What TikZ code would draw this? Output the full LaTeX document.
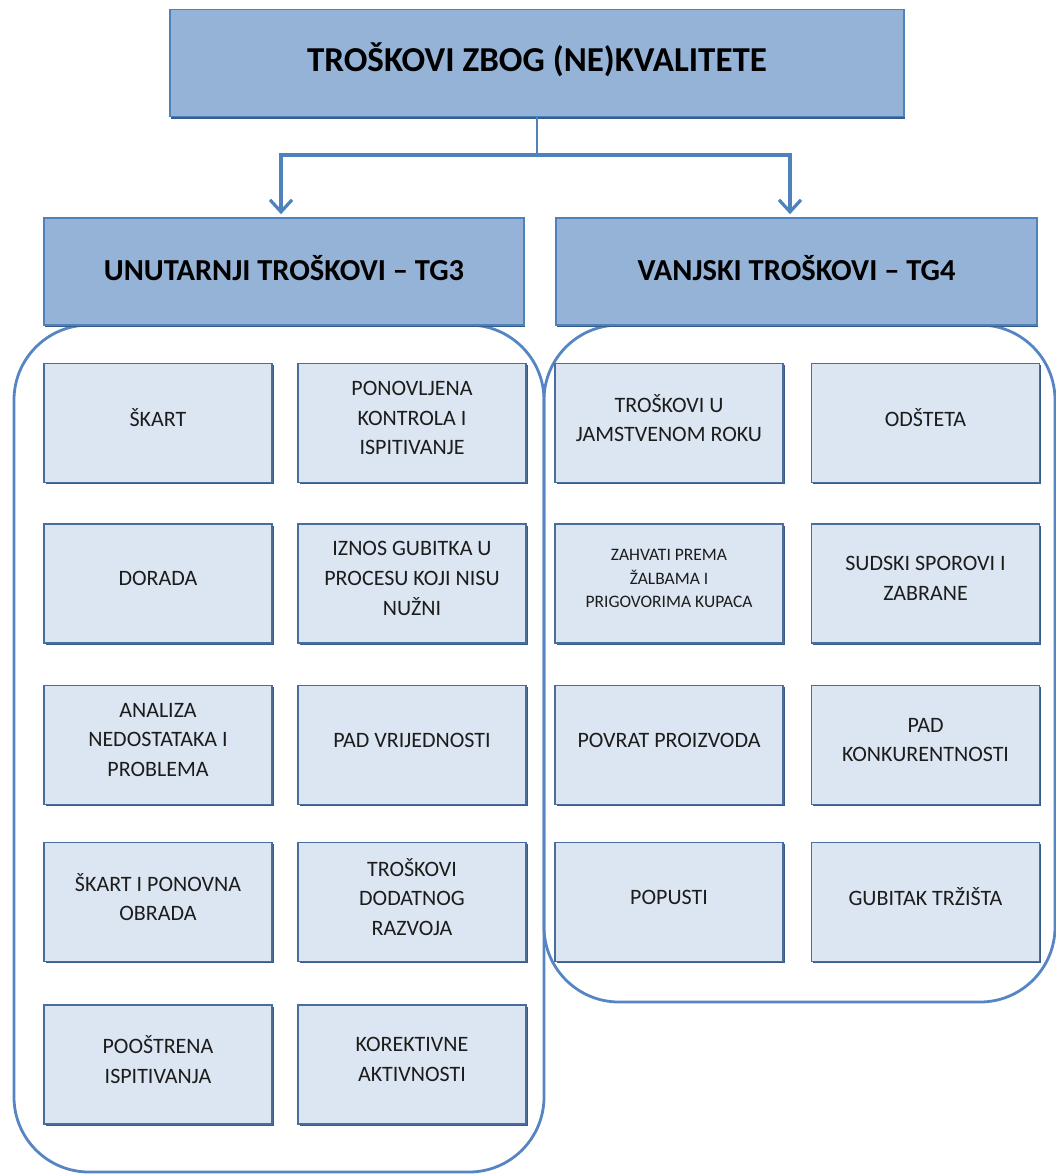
\documentclass[tikz,border=0pt]{standalone}
\usepackage{fontspec}
\setmainfont{Carlito}
\usetikzlibrary{arrows.meta,shadows}
\definecolor{hdrfill}{HTML}{95B3D7}
\definecolor{hdrline}{HTML}{4F81BD}
\definecolor{darkline}{HTML}{385D8A}
\definecolor{cellfill}{HTML}{DCE6F2}
\definecolor{cellline}{HTML}{4A6E9C}
\definecolor{contline}{HTML}{5585C3}
\definecolor{txt}{HTML}{1C1C1C}
\tikzset{
  bigbox/.style={draw=hdrline, fill=hdrfill, line width=1.6pt, inner sep=0pt,
    drop shadow={shadow xshift=1.2pt, shadow yshift=-2pt, fill=darkline, opacity=1}},
  cell/.style={draw=cellline, fill=cellfill, line width=1.3pt, inner sep=0pt,
    minimum width=228pt, minimum height=119pt,
    drop shadow={shadow xshift=1.6pt, shadow yshift=-1.6pt, fill=darkline, opacity=1}},
  celltext/.style={align=center, text=txt, inner sep=0pt,
    font=\fontsize{22}{29.7}\selectfont},
  smalltext/.style={align=center, text=txt, inner sep=0pt,
    font=\fontsize{17.5}{23.3}\selectfont},
  titletext/.style={text=black, inner sep=0pt, font=\bfseries\fontsize{35}{40}\selectfont},
  headtext/.style={text=black, inner sep=0pt, font=\bfseries\fontsize{30.5}{36}\selectfont},
  container/.style={draw=contline, line width=2.8pt, rounded corners=75pt},
  stem/.style={draw=hdrline, line width=1.8pt},
  arr/.style={draw=hdrline, line width=3.2pt, line join=miter,
    -{Straight Barb[length=12pt,width=22pt,line width=3.2pt]}}
}
\newcommand\mkcell[5][celltext]{%
  \node[cell] (#2) at (#3,#4) {};
  \node[#1] (#2t) at ([yshift=5pt]#2.center) {#5};
}
\begin{document}
\begin{tikzpicture}[x=1pt,y=-1pt]
\useasboundingbox (0,0) rectangle (1056,1175);
\fill[white] (0,0) rectangle (1056,1175);

% containers
\draw[container] (14,325) rectangle (544,1172);
\draw[container] (544,325) rectangle (1055,1002);

% top and header boxes
\node[bigbox, minimum width=734pt, minimum height=107pt] (top) at (537,63) {};
\node[titletext] (topt) at ([yshift=3pt]top.center) {TROŠKOVI ZBOG (NE)KVALITETE};
\node[bigbox, minimum width=480pt, minimum height=107pt] (hl) at (284,271.5) {};
\node[headtext] (hlt) at ([yshift=3pt]hl.center) {UNUTARNJI TROŠKOVI – TG3};
\node[bigbox, minimum width=481pt, minimum height=107pt] (hr) at (796.5,271.5) {};
\node[headtext] (hrt) at ([yshift=3pt]hr.center) {VANJSKI TROŠKOVI – TG4};

% connectors
\coordinate (j) at (537,155);
\coordinate (jl) at ([xshift=-3pt,yshift=3pt]hl.north);
\coordinate (jr) at ([xshift=-6.5pt,yshift=3pt]hr.north);
\draw[stem] (top.south) -- (j);
\draw[arr] (j) -| (jl);
\draw[arr] (j) -| (jr);

% left cells
\mkcell{a1}{158}{423}{ŠKART}
\mkcell{a2}{412}{423}{PONOVLJENA\\KONTROLA I\\ISPITIVANJE}
\mkcell{b1}{158}{583.5}{DORADA}
\mkcell{b2}{412}{583.5}{IZNOS GUBITKA U\\PROCESU KOJI NISU\\NUŽNI}
\mkcell{c1}{158}{745}{ANALIZA\\NEDOSTATAKA I\\PROBLEMA}
\mkcell{c2}{412}{745}{PAD VRIJEDNOSTI}
\mkcell{d1}{158}{902}{ŠKART I PONOVNA\\OBRADA}
\mkcell{d2}{412}{902}{TROŠKOVI\\DODATNOG\\RAZVOJA}
\mkcell{e1}{158}{1064.5}{POOŠTRENA\\ISPITIVANJA}
\mkcell{e2}{412}{1064.5}{KOREKTIVNE\\AKTIVNOSTI}

% right cells
\mkcell{f1}{669}{423}{TROŠKOVI U\\JAMSTVENOM ROKU}
\mkcell{f2}{925.5}{423}{ODŠTETA}
\mkcell[smalltext]{g1}{669}{583.5}{ZAHVATI PREMA\\ŽALBAMA I\\PRIGOVORIMA KUPACA}
\mkcell{g2}{925.5}{583.5}{SUDSKI SPOROVI I\\ZABRANE}
\mkcell{h1}{669}{745}{POVRAT PROIZVODA}
\mkcell{h2}{925.5}{745}{PAD\\KONKURENTNOSTI}
\mkcell{i1}{669}{902}{POPUSTI}
\mkcell{i2}{925.5}{902}{GUBITAK TRŽIŠTA}
\end{tikzpicture}
\end{document}
